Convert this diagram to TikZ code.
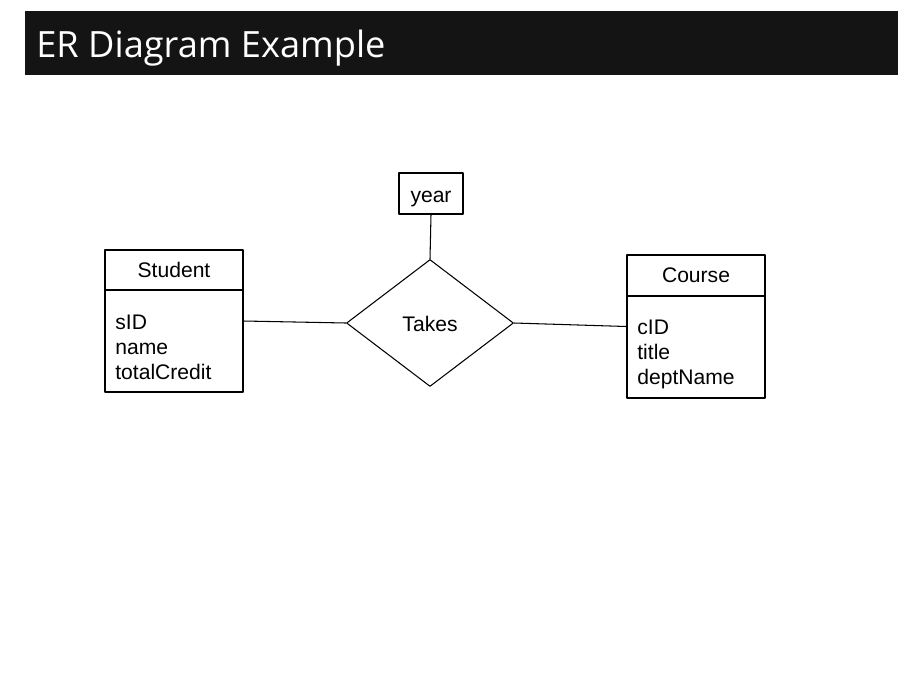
\documentclass[tikz,border=0pt]{standalone}
\usepackage{fontspec}
\setmainfont{Liberation Sans}
\newfontfamily\titlefont{Open Sans}
\usetikzlibrary{shapes.geometric}
\definecolor{barblack}{RGB}{20,20,20}
\tikzset{
  entbox/.style={draw,line width=0.6pt,minimum width=2.76cm,minimum height=2.84cm,inner sep=0pt},
  attrtxt/.style={anchor=base west,inner sep=0pt,font=\fontsize{12}{14}\selectfont},
  reltxt/.style={font=\fontsize{12}{14}\selectfont}
}
\begin{document}
\begin{tikzpicture}[x=0.02cm,y=-0.02cm,line cap=round,line join=round]
\useasboundingbox (0,0) rectangle (912,680);

% 标题栏
\fill[barblack] (25,11) rectangle (898,75);
\node[anchor=base west,text=white,inner sep=0pt,font=\titlefont\fontsize{20.6}{24}\selectfont] (title) at (36,57) {ER Diagram Example};

\coordinate (S) at (174,321);
\coordinate (C) at (696,326.5);
\coordinate (T) at (430,323);
\coordinate (Y) at (431,193.5);

\node[entbox] (student) at (S) {};
\node[entbox,minimum height=2.86cm] (course) at (C) {};
\node[draw,diamond,line width=0.6pt,minimum width=3.34cm,minimum height=2.54cm,inner sep=0pt] (takes) at (T) {};
\node[draw,line width=0.6pt,minimum width=1.28cm,minimum height=0.82cm,inner sep=0pt] (year) at (Y) {};

\draw[line width=0.6pt] (student.west |- 0,290) -- (student.east |- 0,290);
\draw[line width=0.6pt] (course.west |- 0,296) -- (course.east |- 0,296);

\draw[line width=0.6pt] (student.east) -- (takes.west);
\draw[line width=0.6pt] (takes.east) -- (course.west);
\draw[line width=0.6pt] (year.south) -- (takes.north);

\node[reltxt,anchor=base,inner sep=0pt] (takestxt) at (430,331) {Takes};
\node[reltxt,anchor=base,inner sep=0pt] (yeartxt) at (431,202) {year};

\node[reltxt,anchor=base,inner sep=0pt] (sname) at (174,277) {Student};
\node[attrtxt] (sid) at (115,329) {sID};
\node[attrtxt] (sname2) at (115,354) {name};
\node[attrtxt] (scred) at (115,379) {totalCredit};

\node[reltxt,anchor=base,inner sep=0pt] (cname) at (696,282) {Course};
\node[attrtxt] (cid) at (637,334) {cID};
\node[attrtxt] (ctitle) at (637,359) {title};
\node[attrtxt] (cdept) at (637,384) {deptName};
\end{tikzpicture}
\end{document}
